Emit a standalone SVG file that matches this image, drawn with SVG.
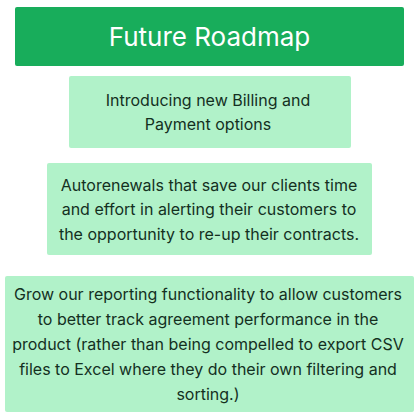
<svg xmlns="http://www.w3.org/2000/svg" width="418" height="419" viewBox="0 0 418 419">
<style>
.box{fill:#b1f2c9}
.t{font-family:Inter,"Noto Sans",sans-serif;font-size:16px;fill:#14301f;text-anchor:middle}
.title{font-family:Inter,"Noto Sans",sans-serif;font-size:26px;fill:#ffffff;text-anchor:middle}
</style>
<rect width="418" height="419" fill="#ffffff"/>
<g id="title">
<rect x="15" y="7" width="389" height="59" rx="2" fill="#18ad5b"/>
<text class="title" x="209.5" y="46">Future Roadmap</text>
</g>
<g id="node1">
<rect class="box" x="69" y="76" width="282" height="72" rx="2"/>
<text class="t" x="208" y="106">Introducing new Billing and</text>
<text class="t" x="208" y="130">Payment options</text>
</g>
<g id="node2">
<rect class="box" x="47" y="163" width="325" height="92" rx="2"/>
<text class="t" x="209" y="191">Autorenewals that save our clients time</text>
<text class="t" x="209" y="215">and effort in alerting their customers to</text>
<text class="t" x="209" y="240">the opportunity to re-up their contracts.</text>
</g>
<g id="node3">
<rect class="box" x="5" y="276" width="409" height="136" rx="2"/>
<text class="t" x="208" y="300">Grow our reporting functionality to allow customers</text>
<text class="t" x="208" y="325">to better track agreement performance in the</text>
<text class="t" x="208" y="350">product (rather than being compelled to export CSV</text>
<text class="t" x="208" y="375">files to Excel where they do their own filtering and</text>
<text class="t" x="208" y="400">sorting.)</text>
</g>
<g id="connectors"></g>
</svg>
